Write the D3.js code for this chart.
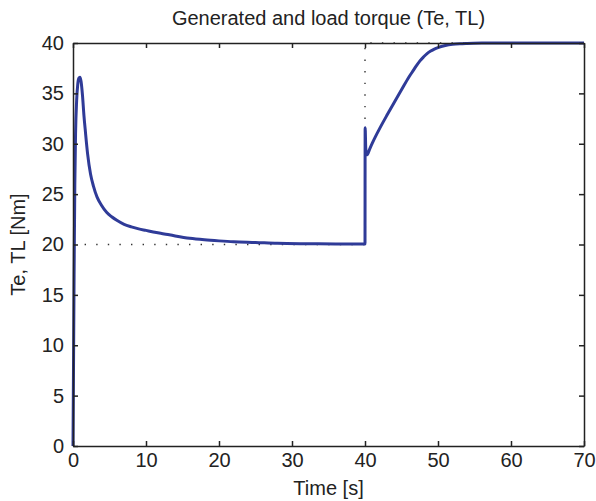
<!DOCTYPE html>
<html>
<head>
<meta charset="utf-8">
<script src="https://cdn.jsdelivr.net/npm/d3@7"></script>
<style>
  body { margin: 0; background: #fff; }
  text { font-family: "Liberation Sans", Arial, sans-serif; fill: #222; }
  .axis path, .axis line { stroke: #222; stroke-width: 1.5; }
  .axis text { font-size: 20px; }
</style>
</head>
<body>
<div class="chart"></div>
<script>
var svgWidth = 596;
var svgHeight = 501;

var margin = { top: 43, right: 12, bottom: 55, left: 73 };
var width = svgWidth - margin.left - margin.right;
var height = svgHeight - margin.top - margin.bottom;

// Generated torque Te
var teTime = [0, 0.08, 0.15, 0.25, 0.35, 0.5, 0.65, 0.8, 0.95, 1.1, 1.3, 1.5, 1.7, 2.0, 2.4, 2.8,
  3.3, 3.9, 4.6, 5.3, 6, 7, 8, 9, 10, 11, 12.5, 14, 16, 18, 20, 22, 25, 28, 32, 36, 40,
  40.02, 40.1, 40.15, 40.3, 40.6, 41, 41.5, 42, 42.5, 43, 44, 45, 46, 46.5, 47, 47.5, 48, 48.5,
  49, 49.5, 50, 51, 52, 53, 54, 56, 58, 70];
var teValue = [0, 9, 17, 26, 31, 34.3, 35.9, 36.5, 36.6, 36.2, 34.8, 32.8, 31.2, 29.0, 27.0, 25.8,
  24.7, 23.9, 23.2, 22.75, 22.4, 22.0, 21.75, 21.55, 21.4, 21.25, 21.05, 20.85, 20.62, 20.47, 20.36, 20.27, 20.2, 20.12, 20.08, 20.06, 20.05,
  31.6, 29.6, 29.2, 28.9, 29.4, 30.05, 30.8, 31.5, 32.17, 32.82, 34.1, 35.35, 36.6, 37.15, 37.7, 38.2, 38.6, 38.95,
  39.2, 39.4, 39.55, 39.75, 39.87, 39.93, 39.96, 39.99, 40, 40];

// Load torque TL
var tlTime = [0, 40, 40, 70];
var tlValue = [20, 20, 40, 40];

var xTicks = [0, 10, 20, 30, 40, 50, 60, 70];
var yTicks = [0, 5, 10, 15, 20, 25, 30, 35, 40];

var svg = d3.select(".chart")
  .append("svg")
  .attr("width", svgWidth)
  .attr("height", svgHeight);

var chartGroup = svg.append("g")
  .attr("transform", `translate(${margin.left}, ${margin.top})`);

var xScale = d3.scaleLinear().domain([0, 70]).range([0, width]);
var yScale = d3.scaleLinear().domain([0, 40]).range([height, 0]);

var line = d3.line()
  .x(d => xScale(d[0]))
  .y(d => yScale(d[1]));

// load torque, dotted
chartGroup.append("path")
  .datum(d3.zip(tlTime, tlValue))
  .attr("d", line)
  .attr("fill", "none")
  .attr("stroke", "#333")
  .attr("stroke-width", 1.4)
  .attr("stroke-dasharray", "1.4,10.2");

// generated torque
chartGroup.append("path")
  .datum(d3.zip(teTime, teValue))
  .attr("d", line.curve(d3.curveMonotoneX))
  .attr("fill", "none")
  .attr("stroke", "#2f3b98")
  .attr("stroke-width", 3)
  .attr("stroke-linejoin", "round");

// axes (box with inward ticks)
chartGroup.append("g")
  .attr("class", "axis")
  .attr("transform", `translate(0, ${height})`)
  .call(d3.axisBottom(xScale).tickValues(xTicks).tickSizeInner(-5).tickSizeOuter(0).tickPadding(7));

chartGroup.append("g")
  .attr("class", "axis")
  .call(d3.axisLeft(yScale).tickValues(yTicks).tickSizeInner(-5).tickSizeOuter(0).tickPadding(9));

chartGroup.append("g")
  .attr("class", "axis")
  .call(d3.axisTop(xScale).tickValues(xTicks).tickSizeInner(-5).tickSizeOuter(0).tickFormat(""));

chartGroup.append("g")
  .attr("class", "axis")
  .attr("transform", `translate(${width}, 0)`)
  .call(d3.axisRight(yScale).tickValues(yTicks).tickSizeInner(-5).tickSizeOuter(0).tickFormat(""));

// labels
svg.append("text")
  .attr("x", margin.left + width / 2)
  .attr("y", 25)
  .attr("text-anchor", "middle")
  .style("font-size", "20px")
  .text("Generated and load torque (Te, TL)");

svg.append("text")
  .attr("x", margin.left + width / 2)
  .attr("y", 495)
  .attr("text-anchor", "middle")
  .style("font-size", "20px")
  .text("Time [s]");

svg.append("text")
  .attr("transform", "rotate(-90)")
  .attr("x", -(margin.top + height / 2))
  .attr("y", 25)
  .attr("text-anchor", "middle")
  .style("font-size", "20px")
  .text("Te, TL [Nm]");
</script>
</body>
</html>
